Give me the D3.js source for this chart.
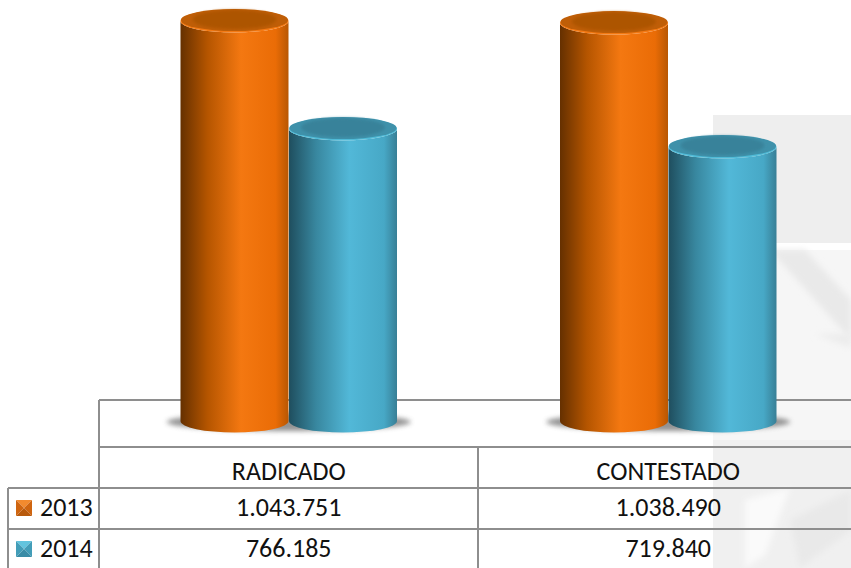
<!DOCTYPE html>
<html><head><meta charset="utf-8">
<script src="https://cdn.jsdelivr.net/npm/d3@7"></script>
<style>html,body{margin:0;padding:0;background:#fff}svg{display:block}text{font-family:Carlito,Calibri,"Open Sans","Noto Sans",sans-serif;font-size:26px;fill:#111}</style>
</head><body><svg id="c" width="851" height="568"></svg>
<script>
const categories = ["RADICADO","CONTESTADO"];
const series = ["2013","2014"];
const values2013 = [1043751,1038490];
const values2014 = [766185,719840];
const labels2013 = ["1.043.751","1.038.490"];
const labels2014 = ["766.185","719.840"];
const palette = {
  "2013":{stops:["#653000","#b55500","#f47811","#ea6c06","#b85702"],top:"#ad5503",rim:"#f47a14",bevel:["#f28a2e","#cf6510","#b85a0c","#cf6510"]},
  "2014":{stops:["#1f4e5e","#38879f","#52b8d8","#47a8c6","#387f96"],top:"#39829a",rim:"#52bcd8",bevel:["#62c4de","#429db8","#3a8ca6","#429db8"]}
};
const stopOffsets=[0,.25,.56,.88,1];
const svg=d3.select("#c");
const defs=svg.append("defs");
series.forEach(s=>{
  const g=defs.append("linearGradient").attr("id","g"+s);
  stopOffsets.forEach((o,i)=>g.append("stop").attr("offset",o).attr("stop-color",palette[s].stops[i]));
});
const blur=(id,sd)=>defs.append("filter").attr("id",id).attr("x","-40%").attr("y","-100%").attr("width","180%").attr("height","300%")
  .append("feGaussianBlur").attr("stdDeviation",sd);
blur("blur",2.5);blur("soft",1.6);blur("wm",3);

// watermark
const wm=svg.append("g");
wm.append("rect").attr("x",713).attr("y",115).attr("width",138).attr("height",128).attr("fill","#eeeeee");
wm.append("rect").attr("x",713).attr("y",250).attr("width",138).attr("height",318).attr("fill","#f6f6f6");
wm.append("path").attr("d","M770 250L805 250L851 300L851 340Z").attr("fill","#e9e9e9").attr("filter","url(#wm)");
wm.append("path").attr("d","M815 334L851 334L851 348Z").attr("fill","#ececec").attr("filter","url(#wm)");
wm.append("path").attr("d","M713 440L851 440L851 568L713 568Z").attr("fill","#f0f0f0");
wm.append("path").attr("d","M745 500L790 488L765 555L745 568Z").attr("fill","#fafafa").attr("filter","url(#wm)");
wm.append("path").attr("d","M790 520L851 490L851 530L800 568Z").attr("fill","#e9e9e9").attr("filter","url(#wm)");

const x0=d3.scaleBand().domain(categories).range([99,858]);
const x1=d3.scaleBand().domain(series).range([x0.bandwidth()/2-108.5,x0.bandwidth()/2+108.5]);
const y=d3.scaleLinear().domain([0,1043751]).range([427,21]);
const baseY=421;
const rx=54,ry=11.5;
const rows=[];
categories.forEach((c,i)=>{rows.push({c,s:"2013",v:values2013[i]});rows.push({c,s:"2014",v:values2014[i]});});

// table lines
const lines=[[99,400,851,400],[99,400,99,568],[99,447,851,447],[8,488,851,488],[8,529,851,529],[8,488,8,568],[478,447,478,568]];
svg.append("g").selectAll("line").data(lines).join("line")
  .attr("x1",d=>d[0]).attr("y1",d=>d[1]).attr("x2",d=>d[2]).attr("y2",d=>d[3])
  .attr("stroke","#8e8e8e").attr("stroke-width",2);

// shadows
svg.append("g").selectAll("ellipse").data(categories).join("ellipse")
  .attr("cx",c=>x0(c)+x0.bandwidth()/2).attr("cy",baseY+1).attr("rx",122).attr("ry",9)
  .attr("fill","#777").attr("opacity",.8).attr("filter","url(#blur)");

// cylinders
const bars=svg.append("g").selectAll("g").data(rows).join("g")
  .attr("transform",d=>`translate(${x0(d.c)+x1(d.s)+x1.bandwidth()/2},0)`);
bars.append("path")
  .attr("d",d=>`M${-rx} ${y(d.v)}L${-rx} ${baseY}A${rx} ${ry} 0 0 0 ${rx} ${baseY}L${rx} ${y(d.v)}A${rx} ${ry} 0 0 1 ${-rx} ${y(d.v)}Z`)
  .attr("fill",d=>`url(#g${d.s})`);
bars.append("ellipse").attr("cx",0).attr("cy",d=>y(d.v)).attr("rx",rx).attr("ry",ry)
  .attr("fill",d=>palette[d.s].rim);
bars.append("ellipse").attr("cx",0).attr("cy",d=>y(d.v)-1).attr("rx",rx-.5).attr("ry",ry-.5)
  .attr("fill",d=>d3.interpolateRgb(palette[d.s].top,palette[d.s].rim)(.25));
bars.append("ellipse").attr("cx",0).attr("cy",d=>y(d.v)-1.5).attr("rx",rx-12).attr("ry",ry-2)
  .attr("fill",d=>palette[d.s].top).attr("filter","url(#soft)");

// table text
const tx=c=>x0(c)+x0.bandwidth()/2;
const t=svg.append("g").attr("text-anchor","middle");
t.selectAll(".h").data(categories).join("text").attr("class","h").attr("x",tx).attr("y",480).text(d=>d);
t.selectAll(".a").data(categories).join("text").attr("class","a").attr("x",tx).attr("y",516).text((d,i)=>labels2013[i]);
t.selectAll(".b").data(categories).join("text").attr("class","b").attr("x",tx).attr("y",557).text((d,i)=>labels2014[i]);

// legend
const lg=svg.append("g").selectAll("g").data(series).join("g").attr("transform",(d,i)=>`translate(16,${[500,541][i]})`);
const tri=["M0 0L16 0L8 8Z","M16 0L16 16L8 8Z","M0 16L16 16L8 8Z","M0 0L0 16L8 8Z"];
lg.each(function(d){
  d3.select(this).selectAll("path").data(tri).join("path").attr("d",p=>p).attr("fill",(p,i)=>palette[d].bevel[i]);
});
lg.append("text").attr("x",24).attr("y",16).text(d=>d);
</script></body></html>
